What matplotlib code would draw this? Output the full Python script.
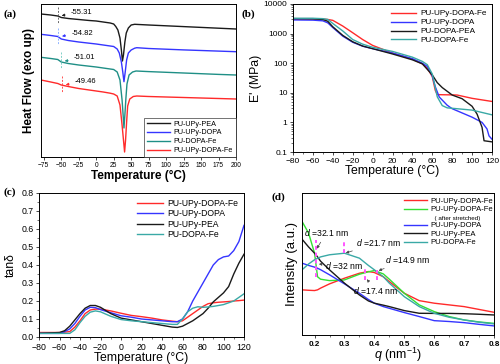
import numpy as np
import matplotlib
matplotlib.use('Agg')
import matplotlib.pyplot as plt
from matplotlib.ticker import AutoMinorLocator, LogLocator, NullFormatter

plt.rcParams['font.family'] = ['Liberation Sans', 'DejaVu Sans']
plt.rcParams['mathtext.fontset'] = 'custom'
plt.rcParams['mathtext.rm'] = 'Liberation Sans'
plt.rcParams['mathtext.it'] = 'Liberation Sans:italic'

RED = '#ff2a2a'
BLUE = '#3535ff'
BLACK = '#1a1a1a'
TEAL_A = '#1f8f86'
TEAL = '#3aa9a6'
GREEN = '#33e033'

# ---- (a) DSC ----
dsc_labels = ['PU-UPy-PEA', 'PU-UPy-DOPA', 'PU-DOPA-Fe', 'PU-UPy-DOPA-Fe']
dsc_T_pea = [-79, -65, -55, -50, -40, -25, -10, 0, 10, 20, 25, 28, 31, 34, 36, 37.5, 39, 41, 43, 46, 50, 55, 75, 100, 125, 150, 175, 200]
dsc_pea = [14, 15, 16, 17.5, 18.5, 19.5, 20.5, 21, 22, 23, 24, 26.5, 30, 38, 50, 61, 55, 42, 33, 28, 25, 24.3, 25, 25.8, 26.6, 27.4, 28.2, 29]
dsc_T_dopa = [-79, -65, -55, -50, -40, -25, -10, 0, 10, 20, 25, 30, 33, 36, 38, 39.7, 41.5, 43.5, 46, 50, 55, 58, 75, 100, 125, 150, 175, 200]
dsc_dopa = [34.3, 35.5, 36.5, 39, 40.5, 42, 43.2, 44, 45, 46, 46.5, 49, 53, 62, 72, 81.7, 72, 60, 53, 50, 48.2, 47.7, 48.5, 49.2, 49.9, 50.5, 51.1, 51.7]
dsc_T_fe = [-79, -65, -55, -50, -40, -25, -10, 0, 10, 20, 25, 30, 34, 37, 38.5, 39.7, 41, 42.5, 44, 47, 52, 57, 75, 100, 125, 150, 175, 200]
dsc_fe = [57.3, 58.5, 59.5, 62, 63.5, 65, 66.2, 67, 68, 69, 69.5, 72, 80, 100, 115, 128, 115, 98, 84, 75, 72, 71, 71.6, 72.3, 73, 73.7, 74.4, 75]
dsc_T_dfe = [-79, -65, -55, -50, -40, -25, -10, 0, 10, 20, 25, 30, 34, 37, 39, 40.6, 42, 43.5, 45, 48, 53, 58, 75, 100, 125, 150, 175, 200]
dsc_dfe = [80, 82, 83.5, 85, 86.5, 88.5, 90, 91, 92, 93.2, 94, 96, 105, 125, 140, 152, 140, 122, 106, 99, 96.5, 96, 96.5, 97, 97.5, 98, 98.5, 99]
tg_values = [-55.31, -54.82, -51.01, -49.46]
tg_text = ['-55.31', '-54.82', '-51.01', '-49.46']

# ---- (b) storage modulus ----
dma_T_red = [-80, -60, -50, -45, -40, -30, -20, -10, 0, 20, 40, 50, 55, 60, 63, 65, 70, 80, 85, 100, 120]
dma_E_red = [3200, 3200, 3100, 3000, 2800, 1800, 1070, 630, 400, 220, 137, 95, 68, 35, 12, 8.7, 8.6, 8.5, 8.4, 6.5, 5.1]
dma_T_blue = [-80, -60, -50, -45, -40, -30, -20, -10, 0, 20, 40, 50, 55, 60, 63, 67, 75, 80, 100, 110, 115, 117, 120]
dma_E_blue = [2900, 2850, 2700, 2300, 1600, 820, 510, 375, 310, 220, 142, 100, 78, 37, 16, 7.2, 3.8, 2.9, 1.5, 1.0, 0.6, 0.35, 0.27]
dma_T_black = [-80, -60, -50, -45, -40, -30, -20, -10, 0, 20, 40, 50, 60, 65, 70, 80, 90, 100, 105, 110, 112, 120]
dma_E_black = [3200, 3150, 3000, 2600, 1700, 870, 530, 380, 310, 205, 130, 95, 40, 22, 15, 8.4, 6.3, 3.5, 1.9, 0.68, 0.24, 0.22]
dma_T_teal = [-80, -60, -50, -45, -40, -30, -20, -10, 0, 20, 40, 50, 55, 60, 62, 65, 70, 75, 80, 100, 120]
dma_E_teal = [3300, 3300, 3200, 3000, 2200, 1230, 630, 440, 345, 250, 160, 115, 89, 43, 21, 7.3, 3.7, 3.1, 3.0, 2.6, 1.8]

# ---- (c) tan delta ----
tan_T = [-80, -60, -55, -50, -45, -40, -35, -30, -25, -20, -10, 0, 10, 20, 30, 40, 50, 55, 60, 65, 70, 75, 80, 85, 90, 95, 100, 105, 110, 115, 120]
tan_red = [0.025, 0.025, 0.027, 0.03, 0.055, 0.09, 0.13, 0.15, 0.155, 0.155, 0.145, 0.132, 0.12, 0.113, 0.105, 0.095, 0.088, 0.085, 0.09, 0.11, 0.13, 0.15, 0.17, 0.185, 0.19, 0.193, 0.195, 0.197, 0.2, 0.202, 0.205]
tan_blue = [0.02, 0.02, 0.03, 0.045, 0.075, 0.115, 0.15, 0.165, 0.163, 0.152, 0.135, 0.118, 0.11, 0.1, 0.095, 0.09, 0.085, 0.085, 0.1, 0.14, 0.2, 0.25, 0.3, 0.35, 0.4, 0.43, 0.445, 0.45, 0.48, 0.53, 0.62]
tan_black = [0.02, 0.025, 0.035, 0.06, 0.095, 0.13, 0.16, 0.175, 0.175, 0.165, 0.13, 0.105, 0.095, 0.085, 0.075, 0.065, 0.055, 0.053, 0.06, 0.075, 0.09, 0.11, 0.13, 0.16, 0.195, 0.22, 0.245, 0.28, 0.35, 0.41, 0.46]
tan_teal = [0.02, 0.02, 0.02, 0.02, 0.04, 0.08, 0.115, 0.138, 0.145, 0.14, 0.115, 0.097, 0.09, 0.085, 0.08, 0.075, 0.07, 0.07, 0.1, 0.14, 0.16, 0.168, 0.165, 0.167, 0.17, 0.175, 0.18, 0.19, 0.2, 0.22, 0.24]

# ---- (d) SAXS ----
q = [0.158, 0.18, 0.2, 0.21, 0.22, 0.25, 0.3, 0.35, 0.38, 0.4, 0.43, 0.45, 0.5, 0.55, 0.6, 0.65, 0.7, 0.75, 0.8]
saxs_red = [0.318, 0.315, 0.313, 0.318, 0.33, 0.36, 0.4, 0.435, 0.447, 0.44, 0.41, 0.376, 0.294, 0.242, 0.224, 0.212, 0.2, 0.18, 0.16]
saxs_green = [0.8, 0.718, 0.576, 0.41, 0.393, 0.383, 0.388, 0.428, 0.445, 0.454, 0.43, 0.393, 0.294, 0.212, 0.165, 0.13, 0.106, 0.092, 0.082]
saxs_blue = [0.506, 0.49, 0.478, 0.47, 0.46, 0.424, 0.36, 0.294, 0.25, 0.224, 0.2, 0.188, 0.158, 0.13, 0.101, 0.095, 0.087, 0.075, 0.064]
saxs_black = [0.675, 0.62, 0.576, 0.55, 0.52, 0.459, 0.365, 0.282, 0.24, 0.224, 0.21, 0.2, 0.172, 0.153, 0.152, 0.152, 0.15, 0.146, 0.141]
saxs_teal = [0.459, 0.5, 0.53, 0.54, 0.55, 0.565, 0.576, 0.541, 0.49, 0.459, 0.41, 0.365, 0.27, 0.2, 0.153, 0.125, 0.106, 0.09, 0.078]

fig = plt.figure(figsize=(5.0, 3.64), dpi=100)
W, H = 500.0, 364.0

def box(x0, y0, x1, y1):
    return [x0 / W, 1 - y1 / H, (x1 - x0) / W, (y1 - y0) / H]

# ---------------- (a)
ax = fig.add_axes(box(41, 4, 236, 157))
dsc_T = [dsc_T_pea, dsc_T_dopa, dsc_T_fe, dsc_T_dfe]
dsc_y = [dsc_pea, dsc_dopa, dsc_fe, dsc_dfe]
cols_a = [BLACK, BLUE, TEAL_A, RED]
dash_cols = ['#666666', '#8fb4ff', '#7fd0c8', '#ff5050']
for T, y, c, lab in zip(dsc_T, dsc_y, cols_a, dsc_labels):
    ax.plot(T, -np.array(y), color=c, lw=1.0, label=lab)
for tg, txt, y, c, dc in zip(tg_values, tg_text, dsc_y, cols_a, dash_cols):
    yc = -np.interp(tg, dsc_T_pea, y)
    ax.plot([tg, tg], [yc + 9, yc - 7], color=dc, lw=0.7, ls=(0, (2, 1.5)))
    ax.annotate(txt, xy=(tg + 2, yc), xytext=(tg + 19, yc + 3.5), fontsize=5.5,
                va='center', ha='left',
                arrowprops=dict(arrowstyle='-|>', color=c, lw=0.5, mutation_scale=4))
ax.set_xlim(-79, 200)
ax.set_ylim(-157, -4)
ax.set_xticks(np.arange(-75, 201, 25))
ax.set_yticks([])
ax.tick_params(axis='x', labelsize=4.8, length=2, width=0.5, pad=1.5)
ax.set_xlabel('Temperature (°C)', fontsize=8.5, fontweight='bold', labelpad=1)
ax.set_ylabel('Heat Flow (exo up)', fontsize=8.5, fontweight='bold', labelpad=4)
leg = ax.legend(loc='lower right', fontsize=5.2, handlelength=3.2, borderaxespad=0,
                frameon=True, fancybox=False, edgecolor='#333333', borderpad=0.4,
                labelspacing=0.25, handletextpad=0.5)
leg.get_frame().set_linewidth(0.6)
for s in ax.spines.values():
    s.set_linewidth(0.7)

# ---------------- (b)
ax = fig.add_axes(box(293, 4, 492, 152))
ax.plot(dma_T_red, dma_E_red, color=RED, lw=1.0, label='PU-UPy-DOPA-Fe')
ax.plot(dma_T_blue, dma_E_blue, color=BLUE, lw=1.0, label='PU-UPy-DOPA')
ax.plot(dma_T_black, dma_E_black, color=BLACK, lw=1.0, label='PU-DOPA-PEA')
ax.plot(dma_T_teal, dma_E_teal, color=TEAL, lw=1.0, label='PU-DOPA-Fe')
ax.set_yscale('log')
ax.set_ylim(0.1, 10000)
ax.set_xlim(-80, 120)
ax.set_xticks(np.arange(-80, 121, 20))
ax.set_yticks([0.1, 1, 10, 100, 1000, 10000])
ax.set_yticklabels(['0.1', '1', '10', '100', '1000', '10000'])
ax.yaxis.set_minor_locator(LogLocator(base=10, subs=np.arange(2, 10)))
ax.yaxis.set_minor_formatter(NullFormatter())
ax.xaxis.set_minor_locator(AutoMinorLocator(2))
ax.tick_params(which='major', labelsize=6, length=2.5, width=0.5, pad=1.5)
ax.tick_params(which='minor', length=1.3, width=0.4)
ax.set_xlabel('Temperature (°C)', fontsize=8.8, labelpad=0)
ax.set_ylabel("E' (MPa)", fontsize=8.8, labelpad=1)
ax.legend(loc='upper right', fontsize=5.9, frameon=False, handlelength=3.0,
          labelspacing=0.15, borderaxespad=0.3, handletextpad=0.5)
for s in ax.spines.values():
    s.set_linewidth(0.7)

# ---------------- (c)
ax = fig.add_axes(box(39, 193, 244, 337))
ax.plot(tan_T, tan_red, color=RED, lw=1.0, label='PU-UPy-DOPA-Fe')
ax.plot(tan_T, tan_blue, color=BLUE, lw=1.0, label='PU-UPy-DOPA')
ax.plot(tan_T, tan_black, color=BLACK, lw=1.0, label='PU-UPy-PEA')
ax.plot(tan_T, tan_teal, color=TEAL, lw=1.0, label='PU-DOPA-Fe')
ax.set_xlim(-80, 120)
ax.set_ylim(0, 0.8)
ax.set_xticks(np.arange(-80, 121, 20))
ax.set_yticks(np.arange(0, 0.81, 0.1))
ax.xaxis.set_minor_locator(AutoMinorLocator(2))
ax.yaxis.set_minor_locator(AutoMinorLocator(2))
ax.tick_params(which='major', labelsize=6.3, length=2.5, width=0.5, pad=1.5)
ax.tick_params(which='minor', length=1.3, width=0.4)
ax.set_xlabel('Temperature (°C)', fontsize=8.8, labelpad=0)
ax.set_ylabel('tanδ', fontsize=8.8, labelpad=3)
ax.legend(loc='upper right', fontsize=6.2, frameon=False, handlelength=3.0,
          labelspacing=0.15, borderaxespad=0.3, handletextpad=0.5)
for s in ax.spines.values():
    s.set_linewidth(0.7)

# ---------------- (d)
ax = fig.add_axes(box(302, 193, 494, 335))
ax.plot(q, saxs_red, color=RED, lw=1.0, label='PU-UPy-DOPA-Fe')
ax.plot(q, saxs_green, color=GREEN, lw=1.0, label='PU-UPy-DOPA-Fe')
ax.plot([], [], color='none', label='  ( after stretched)')
ax.plot(q, saxs_blue, color=BLUE, lw=1.0, label='PU-UPy-DOPA')
ax.plot(q, saxs_black, color=BLACK, lw=1.0, label='PU-UPy-PEA')
ax.plot(q, saxs_teal, color=TEAL, lw=1.0, label='PU-DOPA-Fe')
for xv, y0, y1 in [(0.205, 0.41, 0.67), (0.297, 0.58, 0.66), (0.37, 0.39, 0.47), (0.41, 0.39, 0.46)]:
    ax.plot([xv, xv], [y0, y1], color='#ff55ff', lw=1.4, ls=(0, (2, 1.5)))
ann = [('$d$ =32.1 nm', (0.205, 0.6), (0.165, 0.72)),
       ('$d$ =21.7 nm', (0.3, 0.575), (0.34, 0.65)),
       ('$d$ =32 nm', (0.21, 0.5), (0.235, 0.49)),
       ('$d$ =14.9 nm', (0.41, 0.45), (0.435, 0.53)),
       ('$d$ =17.4 nm', (0.372, 0.4), (0.33, 0.315))]
for txt, xy, xyt in ann:
    ax.annotate(txt, xy=xy, xytext=xyt, fontsize=6.2, va='center', ha='left',
                arrowprops=dict(arrowstyle='-|>', color='#444444', lw=0.5,
                                mutation_scale=4, shrinkA=1, shrinkB=1))
ax.set_xlim(0.158, 0.8)
ax.set_ylim(0, 1.0)
ax.set_xticks(np.arange(0.2, 0.81, 0.1))
ax.set_yticks([])
ax.xaxis.set_minor_locator(AutoMinorLocator(2))
ax.tick_params(which='major', labelsize=5.8, length=2.5, width=0.5, pad=1.5)
ax.tick_params(which='minor', length=1.3, width=0.4)
for lab in ax.get_xticklabels():
    lab.set_fontweight('bold')
ax.set_xlabel('$q$ (nm$^{-1}$)', fontsize=9, labelpad=-1)
ax.set_ylabel('Intensity (a.u.)', fontsize=9.5, labelpad=3)
leg = ax.legend(loc='upper right', fontsize=5.5, frameon=False, handlelength=3.0,
                labelspacing=0.15, borderaxespad=0.2, handletextpad=0.5,
                bbox_to_anchor=(1.02, 1.0))
leg.get_texts()[2].set_fontsize(4.5)
for s in ax.spines.values():
    s.set_linewidth(0.7)

# panel letters
for txt, x, y in [('(a)', 3, 14), ('(b)', 242, 14), ('(c)', 3, 192), ('(d)', 272, 197)]:
    fig.text(x / W, 1 - y / H, txt, fontsize=8, fontweight='bold', family='Liberation Serif',
             ha='left', va='center')

fig.savefig('out.png', dpi=100)
